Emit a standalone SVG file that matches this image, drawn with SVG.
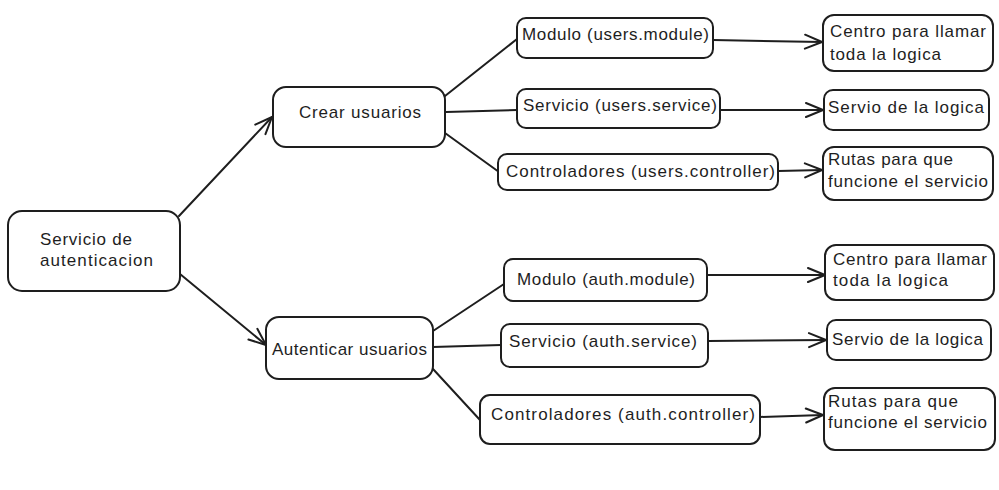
<svg xmlns="http://www.w3.org/2000/svg" width="999" height="490" viewBox="0 0 999 490">
<defs>
<style>
.box{fill:#fff;stroke:#1e1e1e;stroke-width:2}
.t{font-family:"Liberation Sans",Arial,sans-serif;font-size:17px;fill:#1e1e1e}
.c{fill:none;stroke:#1e1e1e;stroke-width:2;stroke-linecap:round}
</style>
<marker id="ah" viewBox="0 0 20 20" refX="19" refY="10" markerWidth="20" markerHeight="20" markerUnits="userSpaceOnUse" orient="auto">
<path d="M2,3 L19,10 L2,17" fill="none" stroke="#1e1e1e" stroke-width="2" stroke-linecap="round"/>
</marker>
</defs>
<rect width="999" height="490" fill="#fff"/>
<g id="connectors">
<path class="c" d="M179,216 L272,117" marker-end="url(#ah)"/>
<path class="c" d="M180,274 L266,345" marker-end="url(#ah)"/>
<path class="c" d="M445,96 L517,39"/>
<path class="c" d="M446,112 L517,110"/>
<path class="c" d="M445,133 L499,172"/>
<path class="c" d="M433,331 L504,284"/>
<path class="c" d="M433,347 L501,345"/>
<path class="c" d="M433,369 L480,420"/>
<path class="c" d="M713,40 L822,42" marker-end="url(#ah)"/>
<path class="c" d="M720,110 L823,110" marker-end="url(#ah)"/>
<path class="c" d="M778,171 L822,170" marker-end="url(#ah)"/>
<path class="c" d="M707,275 L825,275" marker-end="url(#ah)"/>
<path class="c" d="M708,341 L826,340" marker-end="url(#ah)"/>
<path class="c" d="M760,417 L823,415" marker-end="url(#ah)"/>
</g>
<g id="n-main"><rect class="box" x="8" y="211" width="172" height="80" rx="14"/><text class="t" x="40" y="245" textLength="92">Servicio de</text><text class="t" x="40" y="266" textLength="113">autenticacion</text></g>
<g id="n-crear"><rect class="box" x="273" y="87" width="172" height="60" rx="13"/><text class="t" x="299" y="118" textLength="122">Crear usuarios</text></g>
<g id="n-auth"><rect class="box" x="266" y="317" width="167" height="62" rx="13"/><text class="t" x="272" y="355" textLength="155">Autenticar usuarios</text></g>
<g id="n-umod"><rect class="box" x="517" y="18" width="196" height="40" rx="9"/><text class="t" x="522" y="40" textLength="187">Modulo (users.module)</text></g>
<g id="n-userv"><rect class="box" x="517" y="89" width="203" height="39" rx="9"/><text class="t" x="523" y="111" textLength="194">Servicio (users.service)</text></g>
<g id="n-uctrl"><rect class="box" x="498" y="154" width="280" height="36" rx="9"/><text class="t" x="506" y="177" textLength="269">Controladores (users.controller)</text></g>
<g id="n-ucentro"><rect class="box" x="823" y="15" width="170" height="56" rx="11"/><text class="t" x="830" y="37" textLength="156">Centro para llamar</text><text class="t" x="830" y="60" textLength="111">toda la logica</text></g>
<g id="n-uservio"><rect class="box" x="824" y="90" width="165" height="40" rx="9"/><text class="t" x="828" y="113" textLength="156">Servio de la logica</text></g>
<g id="n-urutas"><rect class="box" x="823" y="147" width="170" height="53" rx="11"/><text class="t" x="828" y="165" textLength="125">Rutas para que</text><text class="t" x="828" y="187" textLength="160">funcione el servicio</text></g>
<g id="n-amod"><rect class="box" x="504" y="259" width="203" height="42" rx="9"/><text class="t" x="517" y="285" textLength="178">Modulo (auth.module)</text></g>
<g id="n-aserv"><rect class="box" x="501" y="324" width="207" height="43" rx="9"/><text class="t" x="509" y="347" textLength="188">Servicio (auth.service)</text></g>
<g id="n-actrl"><rect class="box" x="480" y="395" width="280" height="49" rx="10"/><text class="t" x="491" y="420" textLength="264">Controladores (auth.controller)</text></g>
<g id="n-acentro"><rect class="box" x="825" y="245" width="169" height="55" rx="11"/><text class="t" x="833" y="265" textLength="154">Centro para llamar</text><text class="t" x="833" y="286" textLength="115">toda la logica</text></g>
<g id="n-aservio"><rect class="box" x="827" y="320" width="164" height="40" rx="9"/><text class="t" x="832" y="345" textLength="151">Servio de la logica</text></g>
<g id="n-arutas"><rect class="box" x="824" y="388" width="171" height="62" rx="11"/><text class="t" x="828" y="407" textLength="130">Rutas para que</text><text class="t" x="828" y="428" textLength="159">funcione el servicio</text></g>
</svg>
